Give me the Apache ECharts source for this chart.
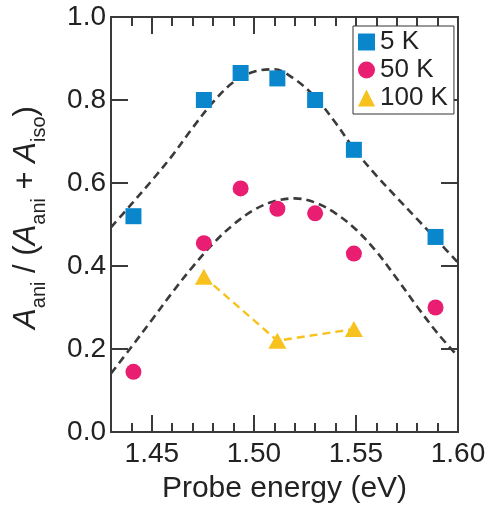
<!DOCTYPE html>
<html>
<head>
<meta charset="utf-8">
<script src="https://cdn.jsdelivr.net/npm/echarts@6/dist/echarts.min.js"></script>
<style>
  html, body { margin: 0; padding: 0; background: #fff; }
  #chart { width: 503px; height: 509px; }
</style>
</head>
<body>
<div id="chart"></div>
<script>
const energy = [1.441, 1.4755, 1.4935, 1.5115, 1.530, 1.549, 1.589];
const ratio5K = [0.52, 0.80, 0.865, 0.852, 0.80, 0.68, 0.47];
const ratio50K = [0.145, 0.455, 0.587, 0.538, 0.527, 0.43, 0.30];
const energy100K = [1.4755, 1.5115, 1.549];
const ratio100K = [0.374, 0.22, 0.248];

// 拟合虚线（读图采样）
const fitEnergy = [1.43, 1.44, 1.45, 1.46, 1.47, 1.48, 1.49, 1.50, 1.51, 1.52, 1.53, 1.54, 1.55, 1.56, 1.57, 1.58, 1.59, 1.60];
const fit5K = [0.493, 0.549, 0.606, 0.666, 0.733, 0.795, 0.843, 0.868, 0.874, 0.850, 0.807, 0.745, 0.676, 0.618, 0.565, 0.513, 0.461, 0.408];
const fit50K = [0.141, 0.205, 0.270, 0.336, 0.398, 0.454, 0.500, 0.535, 0.556, 0.563, 0.553, 0.527, 0.488, 0.435, 0.370, 0.302, 0.238, 0.182];

const majorX = [1.45, 1.50, 1.55, 1.60];

const FONT = '"Liberation Sans", Arial, sans-serif';
const AXIS = '#3a3a3a';
const pair = (xs, ys) => xs.map((x, i) => [x, ys[i]]);

function xAxisDef(pos, major, labels) {
  return {
    type: 'value', position: pos, min: 1.43, max: 1.60,
    interval: 0.01,
    axisLine: { show: true, lineStyle: { color: AXIS, width: 2 } },
    axisTick: major
      ? { show: true, inside: true, length: 17, customValues: majorX, lineStyle: { color: AXIS, width: 2 } }
      : { show: true, inside: true, length: 9, lineStyle: { color: AXIS, width: 2 } },
    axisLabel: labels
      ? { show: true, customValues: majorX, formatter: v => v.toFixed(2), color: '#222', fontSize: 28, fontFamily: FONT, margin: 8 }
      : { show: false },
    splitLine: { show: false },
  };
}

const chart = echarts.init(document.getElementById('chart'), null, { renderer: 'canvas' });

chart.setOption({
  animation: false,
  backgroundColor: '#fff',
  grid: { left: 111, right: 45, top: 17, bottom: 77, containLabel: false, outerBoundsMode: 'none' },
  legend: {
    data: [
      { name: '5 K', icon: 'rect' },
      { name: '50 K', icon: 'circle' },
      { name: '100 K', icon: 'triangle' },
    ],
    orient: 'vertical',
    left: 353, top: 26,
    padding: [3, 6, 3, 5],
    itemWidth: 17, itemHeight: 17, itemGap: 2,
    backgroundColor: '#fff',
    borderColor: '#333', borderWidth: 1,
    textStyle: { fontSize: 26, fontFamily: FONT, color: '#222', lineHeight: 26 },
  },
  xAxis: [
    Object.assign(xAxisDef('bottom', false, false), {
      name: 'Probe energy (eV)', nameLocation: 'middle', nameGap: 42,
      nameTextStyle: { fontSize: 30, fontFamily: FONT, color: '#222' },
    }),
    xAxisDef('bottom', true, true),
    xAxisDef('top', false, false),
    xAxisDef('top', true, false),
  ],
  yAxis: [
    {
      type: 'value', position: 'left', min: 0, max: 1, interval: 0.2,
      axisLine: { show: true, lineStyle: { color: AXIS, width: 2 } },
      axisTick: { show: true, inside: true, length: 17, lineStyle: { color: AXIS, width: 2 } },
      axisLabel: { formatter: v => v.toFixed(1), color: '#222', fontSize: 28, fontFamily: FONT, margin: 5 },
      splitLine: { show: false },
      name: '{a|A}{s|ani}{n| / (}{a|A}{s|ani}{n| + }{a|A}{s|iso}{n|)}',
      nameLocation: 'middle', nameGap: 62, nameRotate: 90,
      nameTextStyle: {
        padding: [0, 0, 0, 14],
        rich: {
          a: { fontSize: 31, fontFamily: FONT, fontStyle: 'italic', color: '#222', verticalAlign: 'bottom', padding: [0, 0, 7, 0] },
          n: { fontSize: 31, fontFamily: FONT, color: '#222', verticalAlign: 'bottom', padding: [0, 0, 7, 0] },
          s: { fontSize: 20, fontFamily: FONT, color: '#222', verticalAlign: 'bottom' },
        },
      },
    },
    {
      type: 'value', position: 'right', min: 0, max: 1, interval: 0.2,
      axisLine: { show: true, lineStyle: { color: AXIS, width: 2 } },
      axisTick: { show: true, inside: true, length: 17, lineStyle: { color: AXIS, width: 2 } },
      axisLabel: { show: false },
      splitLine: { show: false },
    },
  ],
  series: [
    {
      name: 'fit5K', type: 'line', smooth: 0.35, symbol: 'none', z: 1,
      data: pair(fitEnergy, fit5K),
      lineStyle: { color: '#3a3a3a', width: 2.6, type: [8, 5] },
    },
    {
      name: 'fit50K', type: 'line', smooth: 0.35, symbol: 'none', z: 1,
      data: pair(fitEnergy, fit50K),
      lineStyle: { color: '#3a3a3a', width: 2.6, type: [8, 5] },
    },
    {
      name: '100 K', type: 'line', symbol: 'triangle', symbolSize: [18, 16], z: 3,
      data: pair(energy100K, ratio100K),
      lineStyle: { color: '#f7c21d', width: 2.4, type: [8, 5] },
      itemStyle: { color: '#f7c21d', opacity: 1 },
    },
    {
      name: '5 K', type: 'scatter', symbol: 'rect', symbolSize: 16, z: 3,
      data: pair(energy, ratio5K),
      itemStyle: { color: '#0a86cc', opacity: 1 },
    },
    {
      name: '50 K', type: 'scatter', symbol: 'circle', symbolSize: 16, z: 3,
      data: pair(energy, ratio50K),
      itemStyle: { color: '#e91e73', opacity: 1 },
    },
  ],
});
</script>
</body>
</html>
